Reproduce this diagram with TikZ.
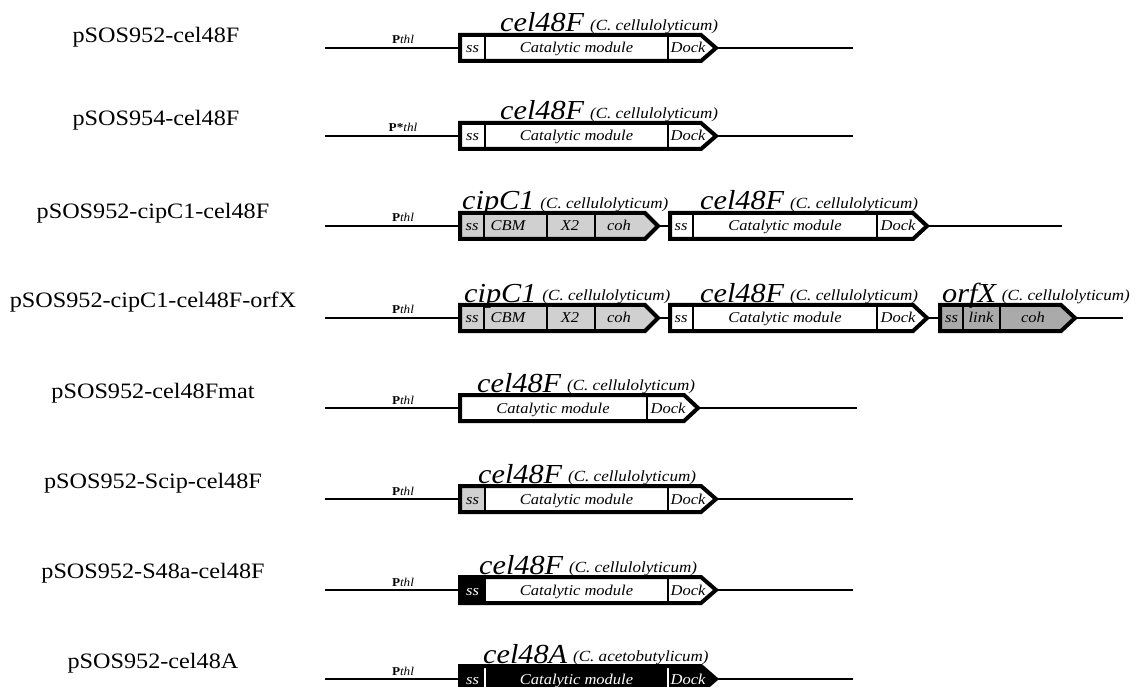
\documentclass[tikz,border=0pt]{standalone}
\usepackage{fontspec}
\setmainfont{Liberation Serif}[FakeStretch=1.1]
\usepackage{graphicx}
\tikzset{
  backbone/.style={line width=1.6pt},
  genebdr/.style={line width=4pt, line join=miter},
  divider/.style={line width=1.2pt},
  celltxt/.style={font=\fontsize{15}{18}\selectfont\itshape, inner sep=0pt, anchor=base},
  promtxt/.style={font=\fontsize{12}{14}\selectfont, inner sep=0pt, anchor=base},
  titletxt/.style={inner sep=0pt, anchor=base west},
  plasmid/.style={font=\fontsize{22}{26}\selectfont, inner sep=0pt},
}
\definecolor{lightg}{RGB}{208,208,208}
\definecolor{darkg}{RGB}{170,170,170}
\newcommand\gname[2]{{\fontsize{27.5}{32}\selectfont\itshape #1}\hspace{6pt}\raisebox{1.5pt}{\fontsize{15.5}{18}\selectfont\itshape (#2)}}
\newcommand\fillgene[5]{\fill[#5] (#1,#4-13) -- (#2,#4-13) -- (#3,#4) -- (#2,#4+13) -- (#1,#4+13) -- cycle;}
\newcommand\outlinegene[4]{\draw[genebdr] (#1,#4-13) -- (#2,#4-13) -- (#3,#4) -- (#2,#4+13) -- (#1,#4+13) -- cycle;}
\newcommand\divline[3][black]{\draw[divider,#1] (#2,#3-13) -- (#2,#3+13);}
\newcommand\pthl{\textbf{P}\textit{thl}}
\begin{document}
\begin{tikzpicture}[x=1pt,y=-1pt]
\useasboundingbox (0,0) rectangle (1136,687);
\clip (0,0) rectangle (1136,687);
\fill[white] (0,0) rectangle (1136,687);

% ---------- Row 1 ----------
\node[plasmid] (l1) at (156,37) {pSOS952-cel48F};
\coordinate (a1) at (325,48); \coordinate (b1) at (853,48);
\draw[backbone] (a1) -- (b1);
\node[promtxt] (p1) at (403,44) {\pthl};
\fillgene{460}{701}{716}{48}{white}
\divline{485}{48}\divline{668}{48}
\outlinegene{460}{701}{716}{48}
\node[celltxt] (s1) at (472.5,53) {ss};
\node[celltxt] (c1) at (576.5,53) {Catalytic module};
\node[celltxt] (d1) at (688,53) {Dock};
\node[titletxt] (t1) at (500,32) {\gname{cel48F}{C. cellulolyticum}};

% ---------- Row 2 ----------
\node[plasmid] (l2) at (156,120) {pSOS954-cel48F};
\coordinate (a2) at (325,136); \coordinate (b2) at (853,136);
\draw[backbone] (a2) -- (b2);
\node[promtxt] (p2) at (403,132) {\textbf{P*}\textit{thl}};
\fillgene{460}{701}{716}{136}{white}
\divline{485}{136}\divline{668}{136}
\outlinegene{460}{701}{716}{136}
\node[celltxt] (s2) at (472.5,141) {ss};
\node[celltxt] (c2) at (576.5,141) {Catalytic module};
\node[celltxt] (d2) at (688,141) {Dock};
\node[titletxt] (t2) at (500,120) {\gname{cel48F}{C. cellulolyticum}};

% ---------- Row 3 ----------
\node[plasmid] (l3) at (153,213) {pSOS952-cipC1-cel48F};
\coordinate (a3) at (325,226); \coordinate (b3) at (1062,226);
\draw[backbone] (a3) -- (b3);
\node[promtxt] (p3) at (403,222) {\pthl};
\fillgene{460}{645}{658}{226}{lightg}
\divline{484}{226}\divline{547}{226}\divline{595}{226}
\outlinegene{460}{645}{658}{226}
\node[celltxt] (s3) at (472,231) {ss};
\node[celltxt] (m3) at (508,231) {CBM};
\node[celltxt] (x3) at (570,231) {X2};
\node[celltxt] (h3) at (619,231) {coh};
\node[titletxt] (t3) at (462,210) {\gname{cipC1}{C. cellulolyticum}};
\fillgene{670}{913}{927}{226}{white}
\divline{693}{226}\divline{877}{226}
\outlinegene{670}{913}{927}{226}
\node[celltxt] (s3b) at (681,231) {ss};
\node[celltxt] (c3b) at (785,231) {Catalytic module};
\node[celltxt] (d3b) at (898,231) {Dock};
\node[titletxt] (t3b) at (700,210) {\gname{cel48F}{C. cellulolyticum}};

% ---------- Row 4 ----------
\node[plasmid] (l4) at (153,302) {pSOS952-cipC1-cel48F-orfX};
\coordinate (a4) at (325,318); \coordinate (b4) at (1123,318);
\draw[backbone] (a4) -- (b4);
\node[promtxt] (p4) at (403,314) {\pthl};
\fillgene{460}{645}{658}{318}{lightg}
\divline{484}{318}\divline{547}{318}\divline{595}{318}
\outlinegene{460}{645}{658}{318}
\node[celltxt] (s4) at (472,323) {ss};
\node[celltxt] (m4) at (508,323) {CBM};
\node[celltxt] (x4) at (570,323) {X2};
\node[celltxt] (h4) at (619,323) {coh};
\node[titletxt] (t4) at (464,302) {\gname{cipC1}{C. cellulolyticum}};
\fillgene{670}{913}{927}{318}{white}
\divline{693}{318}\divline{877}{318}
\outlinegene{670}{913}{927}{318}
\node[celltxt] (s4b) at (681,323) {ss};
\node[celltxt] (c4b) at (785,323) {Catalytic module};
\node[celltxt] (d4b) at (898,323) {Dock};
\node[titletxt] (t4b) at (700,302) {\gname{cel48F}{C. cellulolyticum}};
\fillgene{940}{1061}{1075}{318}{darkg}
\divline{963}{318}\divline{1000}{318}
\outlinegene{940}{1061}{1075}{318}
\node[celltxt] (s4c) at (951.5,323) {ss};
\node[celltxt] (k4c) at (981,323) {link};
\node[celltxt] (h4c) at (1033,323) {coh};
\node[titletxt] (t4c) at (942,302) {\gname{orfX}{C. cellulolyticum}};

% ---------- Row 5 ----------
\node[plasmid] (l5) at (153,393) {pSOS952-cel48Fmat};
\coordinate (a5) at (325,408); \coordinate (b5) at (857,408);
\draw[backbone] (a5) -- (b5);
\node[promtxt] (p5) at (403,404) {\pthl};
\fillgene{460}{684}{698}{408}{white}
\divline{647}{408}
\outlinegene{460}{684}{698}{408}
\node[celltxt] (c5) at (553,413) {Catalytic module};
\node[celltxt] (d5) at (668,413) {Dock};
\node[titletxt] (t5) at (477,392) {\gname{cel48F}{C. cellulolyticum}};

% ---------- Row 6 ----------
\node[plasmid] (l6) at (153,483) {pSOS952-Scip-cel48F};
\coordinate (a6) at (325,499); \coordinate (b6) at (853,499);
\draw[backbone] (a6) -- (b6);
\node[promtxt] (p6) at (403,495) {\pthl};
\fillgene{460}{701}{716}{499}{white}
\fill[lightg] (460,486) rectangle (485,512);
\divline{485}{499}\divline{668}{499}
\outlinegene{460}{701}{716}{499}
\node[celltxt] (s6) at (472.5,504) {ss};
\node[celltxt] (c6) at (576.5,504) {Catalytic module};
\node[celltxt] (d6) at (688,504) {Dock};
\node[titletxt] (t6) at (478,483) {\gname{cel48F}{C. cellulolyticum}};

% ---------- Row 7 ----------
\node[plasmid] (l7) at (153,573) {pSOS952-S48a-cel48F};
\coordinate (a7) at (325,590); \coordinate (b7) at (853,590);
\draw[backbone] (a7) -- (b7);
\node[promtxt] (p7) at (403,586) {\pthl};
\fillgene{460}{701}{716}{590}{white}
\fill[black] (460,577) rectangle (485,603);
\divline{485}{590}\divline{668}{590}
\outlinegene{460}{701}{716}{590}
\node[celltxt,white] (s7) at (472.5,595) {ss};
\node[celltxt] (c7) at (576.5,595) {Catalytic module};
\node[celltxt] (d7) at (688,595) {Dock};
\node[titletxt] (t7) at (479,574) {\gname{cel48F}{C. cellulolyticum}};

% ---------- Row 8 ----------
\node[plasmid] (l8) at (153,663) {pSOS952-cel48A};
\coordinate (a8) at (325,679); \coordinate (b8) at (853,679);
\draw[backbone] (a8) -- (b8);
\node[promtxt] (p8) at (403,675) {\pthl};
\fillgene{460}{701}{716}{679}{black}
\divline[white]{485}{679}\divline[white]{668}{679}
\outlinegene{460}{701}{716}{679}
\node[celltxt,white] (s8) at (472.5,684) {ss};
\node[celltxt,white] (c8) at (576.5,684) {Catalytic module};
\node[celltxt,white] (d8) at (688,684) {Dock};
\node[titletxt] (t8) at (483,663) {\gname{cel48A}{C. acetobutylicum}};
\end{tikzpicture}
\end{document}
